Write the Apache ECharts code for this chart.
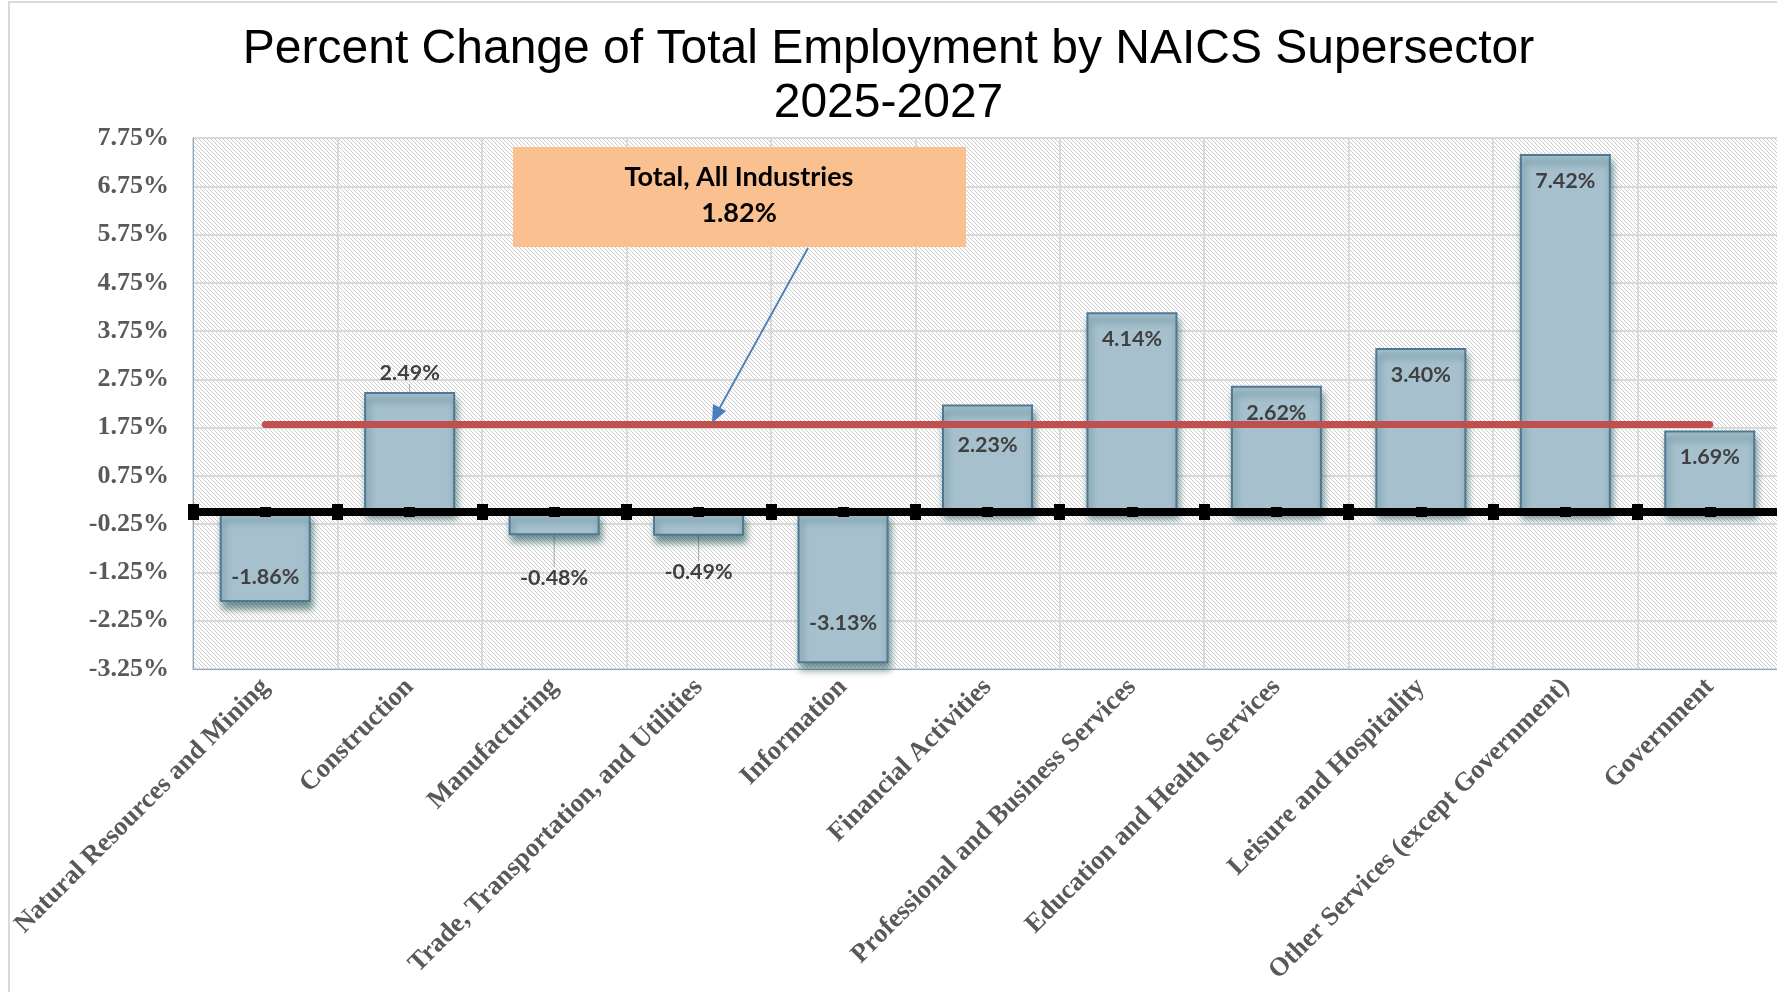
<!DOCTYPE html>
<html>
<head>
<meta charset="utf-8">
<script src="https://cdn.jsdelivr.net/npm/echarts@6/dist/echarts.min.js"></script>
<style>html,body{margin:0;padding:0;background:#fff}#c{width:1777px;height:992px}</style>
</head>
<body>
<div id="c"></div>
<script>
const categories = ['Natural Resources and Mining','Construction','Manufacturing','Trade, Transportation, and Utilities','Information','Financial Activities','Professional and Business Services','Education and Health Services','Leisure and Hospitality','Other Services (except Government)','Government'];
const pctChange = [-1.86, 2.49, -0.48, -0.49, -3.13, 2.23, 4.14, 2.62, 3.40, 7.42, 1.69];
const totalAll = 1.82;
const yMin = -3.25, yMax = 7.75, yStep = 1;

// label styling per bar (style, not data)
const labelPos = ['insideBottom','top','bottom','bottom','insideBottom','insideTop','insideTop','insideTop','insideTop','insideTop','insideTop'];
const labelDist = [14, 8, 6, 6, 29, 30, 16, 16, 16, 16, 16];
const labelDrop = [0, 0, 26, 19, 0, 0, 0, 0, 0, 0, 0];

function hatch(){
  const c = document.createElement('canvas'); c.width = 4; c.height = 4;
  const g = c.getContext('2d');
  g.fillStyle = '#ffffff'; g.fillRect(0,0,4,4);
  g.strokeStyle = '#CDCDCD'; g.lineWidth = 1;
  g.beginPath();
  g.moveTo(-1,-1); g.lineTo(5,5);
  g.moveTo(-1,3); g.lineTo(1,5);
  g.moveTo(3,-1); g.lineTo(5,1);
  g.stroke();
  return c;
}

const chart = echarts.init(document.getElementById('c'), null, {renderer:'canvas', devicePixelRatio:1});
const zeroAxis = (pos, align, len, w) => ({
  type:'category', data:categories, position:pos, z:6,
  axisLine:{show:true, onZero:true, onZeroAxisIndex:0, lineStyle:{color:'#000', width:8}},
  axisTick:{show:true, interval:0, alignWithLabel:align, length:len, lineStyle:{color:'#000', width:w}},
  axisLabel:{show:false, interval:0}, splitLine:{show:false}
});

chart.setOption({
  animation:false,
  title:{
    text:'Percent Change of Total Employment by NAICS Supersector\n2025-2027',
    left:'center', top:18,
    textStyle:{fontFamily:'Liberation Sans, Arial', fontWeight:'normal', fontSize:48, lineHeight:54, color:'#000'}
  },
  grid:{
    left:193, top:138, right:-5, bottom:323, containLabel:false, outerBoundsMode:'none',
    show:true, borderColor:'#8EA9C1', borderWidth:1,
    backgroundColor:{image:hatch(), repeat:'repeat'}
  },
  xAxis:[
    {
      type:'category', data:categories, position:'bottom', boundaryGap:true,
      axisLine:{show:true, onZero:false, lineStyle:{color:'#8EA9C1', width:1}},
      axisTick:{show:false},
      axisLabel:{rotate:45, interval:0, margin:14, fontFamily:'Liberation Serif, Times New Roman', fontWeight:'bold', fontSize:26.5, color:'#595959'},
      splitLine:{show:true, interval:0, lineStyle:{color:'#D9D9D9', width:2}}
    },
    zeroAxis('bottom', false, 8, 11),
    zeroAxis('top', false, 8, 11),
    zeroAxis('bottom', true, 5, 11),
    zeroAxis('top', true, 5, 11)
  ],
  yAxis:{
    type:'value', min:yMin, max:yMax, interval:yStep,
    axisLine:{show:true, lineStyle:{color:'#8EA9C1', width:1}},
    axisTick:{show:false},
    axisLabel:{margin:24, formatter:v => v.toFixed(2)+'%', fontFamily:'Liberation Serif, Times New Roman', fontWeight:'bold', fontSize:26, color:'#595959'},
    splitLine:{show:true, lineStyle:{color:'#D9D9D9', width:2}}
  },
  series:[{
    type:'bar', xAxisIndex:0, yAxisIndex:0, barWidth:91,
    data: pctChange.map((v,i) => ({value:v, label:{position:labelPos[i], distance:labelDist[i]}})),
    itemStyle:{color:'#A6C0CE', borderColor:'#4E7893', borderWidth:2,
      shadowColor:'rgba(20,75,75,0.6)', shadowBlur:7, shadowOffsetX:2, shadowOffsetY:7},
    label:{show:true, formatter:p => p.value.toFixed(2)+'%', fontFamily:'Lato, Open Sans', fontWeight:'bold', fontSize:21.5, color:'#404040'},
    labelLine:{show:true, lineStyle:{color:'#A6A6A6', width:1}},
    labelLayout: p => labelDrop[p.dataIndex] ? {dy: labelDrop[p.dataIndex]} : {},
    markLine:{
      silent:true, symbol:['none','none'], z:5,
      label:{show:false},
      lineStyle:{color:'#C0504D', width:7, type:'solid', cap:'round'},
      emphasis:{disabled:true},
      data:[[{coord:[0, totalAll]}, {coord:[categories.length-1, totalAll]}]]
    }
  }],
  graphic:[
    {type:'rect', z:0, silent:true, shape:{x:9, y:2, width:1800, height:1010}, style:{fill:'none', stroke:'#D9D9D9', lineWidth:2}},
    {type:'rect', z:100, shape:{x:513, y:147, width:453, height:100}, style:{fill:'#FAC090'}},
    {type:'text', z:101, x:739, y:195, style:{text:'Total, All Industries\n'+totalAll.toFixed(2)+'%', align:'center', verticalAlign:'middle', fontFamily:'Lato, Open Sans', fontWeight:'bold', fontSize:27, lineHeight:36, fill:'#000'}},
    {type:'line', z:101, shape:{x1:808, y1:248, x2:718, y2:411}, style:{stroke:'#4A7EBB', lineWidth:1.8}},
    {type:'polygon', z:101, shape:{points:[[712,423],[726,411],[713,404]]}, style:{fill:'#4A7EBB'}}
  ]
});
</script>
</body>
</html>
